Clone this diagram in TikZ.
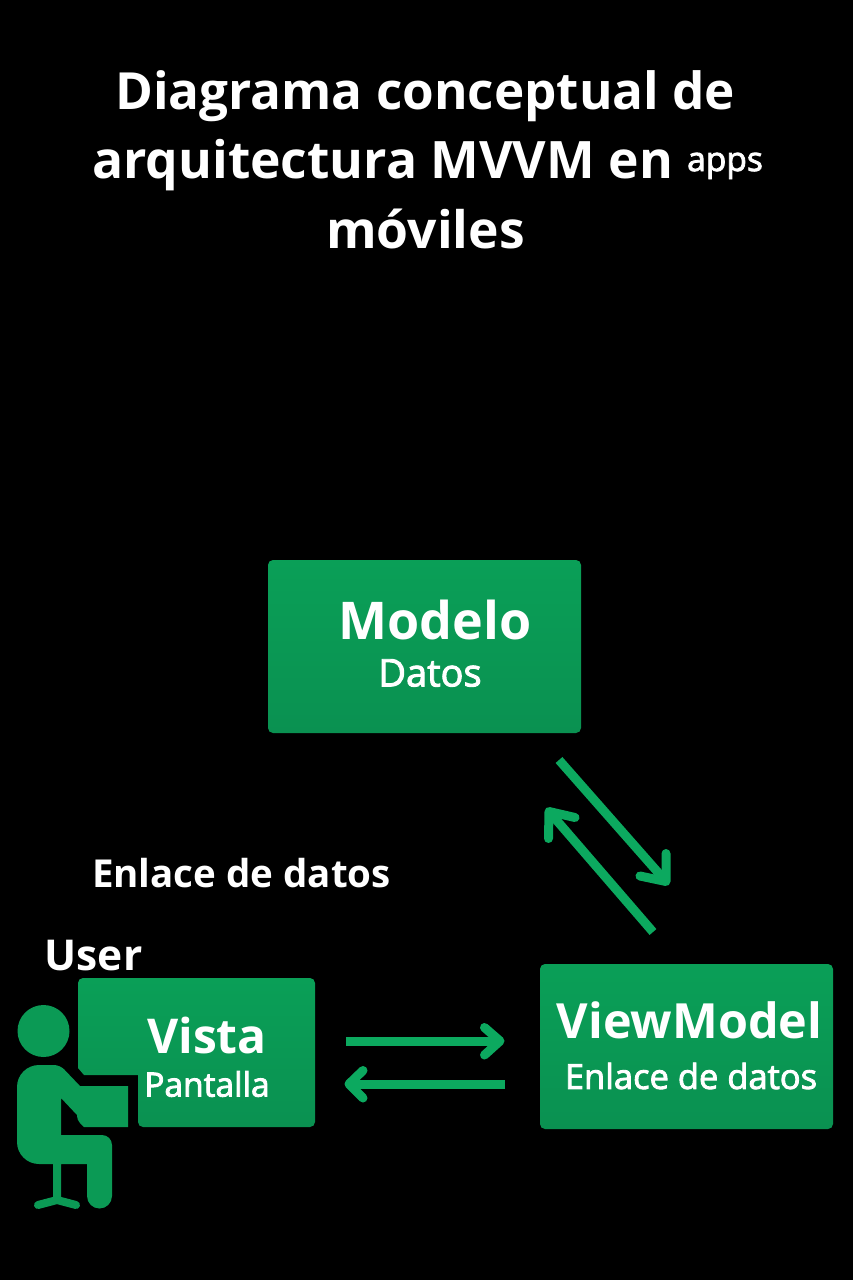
\documentclass[tikz,border=0pt]{standalone}
\usepackage{fontspec}
\setmainfont{Open Sans}
\definecolor{boxgreen}{HTML}{0B9A55}
\definecolor{boxtop}{HTML}{0A9F57}
\definecolor{boxbot}{HTML}{0A9151}
\definecolor{linkgreen}{HTML}{0CA95F}
\newfontfamily\semifont[FakeBold=2.5]{Open Sans}
\tikzset{
  greenbox/.style={draw=none,rounded corners=5pt,top color=boxtop,bottom color=boxbot,minimum width=#1,inner sep=0pt},
  figure/.style={fill=boxgreen,draw=none},
  title/.style={text=white,font=\fontsize{51.6}{52}\selectfont\bfseries,anchor=base west,inner sep=0pt},
  shaft/.style={draw=linkgreen,line width=9pt},
  barb/.style={draw=linkgreen,line width=9pt,line cap=round,line join=round},
}
\begin{document}
\begin{tikzpicture}[x=1pt,y=-1pt]
\fill[black] (0,0) rectangle (853,1280);
\useasboundingbox (0,0) rectangle (853,1280);
% title
\node[title,font=\fontsize{51.2}{52}\selectfont\bfseries] (t1) at (115,109) {Diagrama conceptual de};
\node[title] (t2) at (92,178) {arquitectura MVVM en};
\node[title,font=\semifont\fontsize{33.5}{34}\selectfont] (t2b) at (687,171) {apps};
\node[title] (t3) at (326,248) {móviles};
% boxes
\node[greenbox=313pt,minimum height=173pt] (modelo) at (424.5,646.5) {};
\node[greenbox=293pt,minimum height=165pt] (vm) at (686.5,1046.5) {};
\path[top color=boxtop,bottom color=boxbot,rounded corners=5pt]
  (78,978) -- (315,978) -- (315,1127) -- (138,1127) [sharp corners] -- (138,1075) -- (84,1075) -- (78,1068) [rounded corners=5pt] -- cycle;
% person
\node[figure,circle,minimum size=52pt,inner sep=0pt] (head) at (43.5,1031) {};
\fill[figure,rounded corners=6pt]
  (17,1065) -- (60,1065) [sharp corners] -- (80,1086) -- (128,1086) -- (128,1127) -- (84,1127)
  [rounded corners=4pt] -- (77,1120) [sharp corners] -- (77,1115) -- (61,1098) -- (61,1135)
  [rounded corners=10pt] -- (112,1135) [sharp corners] -- (112,1150) -- (112,1196)
  arc[start angle=0,end angle=180,x radius=12.5pt,y radius=-12.5pt]
  -- (87,1164) -- (61,1164) -- (61,1197) -- (53,1197) -- (53,1164) [rounded corners=22pt] -- (17,1164) -- cycle;
\draw[boxgreen,line width=8pt,line cap=round,line join=round] (38,1205) -- (57,1200) -- (76,1205);
% texts
\node[text=white,inner sep=0pt,font=\fontsize{52}{52}\selectfont\bfseries] (modelot) at (435,620) {Modelo};
\node[text=white,inner sep=0pt,font=\semifont\fontsize{38}{38}\selectfont] (datos) at (430,673) {Datos};
\node[text=white,inner sep=0pt,font=\fontsize{48.5}{48}\selectfont\bfseries] (vmt) at (689.5,1020) {ViewModel};
\node[text=white,inner sep=0pt,font=\semifont\fontsize{34.5}{34}\selectfont] (vmsub) at (691,1076) {Enlace de datos};
\node[text=white,inner sep=0pt,font=\fontsize{48}{48}\selectfont\bfseries] (vistat) at (207,1035) {Vista};
\node[text=white,inner sep=0pt,font=\semifont\fontsize{33.5}{34}\selectfont] (pant) at (207,1084) {Pantalla};
\node[text=white,inner sep=0pt,font=\fontsize{38.5}{38}\selectfont\bfseries] (enl) at (241.5,873) {Enlace de datos};
\node[text=white,inner sep=0pt,font=\fontsize{42.5}{42}\selectfont\bfseries] (usr) at (93.5,956) {User};
% connectors: start, tip, and the two barb ends
\coordinate (a1) at (346,1041); \coordinate (a2) at (500,1041); \coordinate (a3) at (484.5,1027.5); \coordinate (a4) at (484.5,1055);
\coordinate (b1) at (505,1084); \coordinate (b2) at (349,1084); \coordinate (b3) at (363,1070.5); \coordinate (b4) at (363,1098);
\coordinate (c1) at (559,760); \coordinate (c2) at (666,881.5); \coordinate (c3) at (666,853.5); \coordinate (c4) at (640,876);
\coordinate (d1) at (653,932); \coordinate (d2) at (549,811.5); \coordinate (d3) at (548.5,838.5); \coordinate (d4) at (575,817.5);
\draw[shaft] (a1) -- (a2); \draw[barb] (a3) -- (a2) -- (a4);
\draw[shaft] (b1) -- (b2); \draw[barb] (b3) -- (b2) -- (b4);
\draw[shaft] (c1) -- (c2); \draw[barb] (c3) -- (c2) -- (c4);
\draw[shaft] (d1) -- (d2); \draw[barb] (d3) -- (d2) -- (d4);
\end{tikzpicture}
\end{document}
